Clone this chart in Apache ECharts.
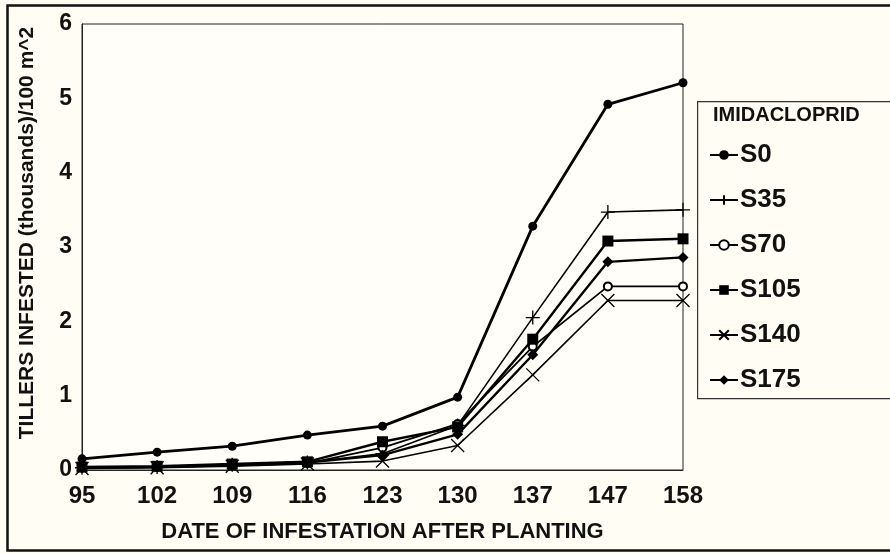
<!DOCTYPE html>
<html>
<head>
<meta charset="utf-8">
<script src="https://cdn.jsdelivr.net/npm/echarts@6/dist/echarts.min.js"></script>
<style>
html,body{margin:0;padding:0;background:#fffdf4;}
#chart{width:890px;height:554px;}
</style>
</head>
<body>
<div id="chart"></div>
<script>
var categories = ['95','102','109','116','123','130','137','147','158'];
var seriesNames = ['S0','S35','S70','S105','S140','S175'];
var S0   = [0.15,0.24,0.32,0.47,0.59,0.98,3.28,4.92,5.21];
var S35  = [0.03,0.04,0.07,0.10,0.22,0.60,2.05,3.47,3.50];
var S70  = [0.03,0.04,0.06,0.09,0.30,0.62,1.66,2.47,2.47];
var S105 = [0.04,0.05,0.08,0.11,0.38,0.58,1.76,3.08,3.11];
var S140 = [0.02,0.03,0.05,0.08,0.12,0.33,1.28,2.28,2.28];
var S175 = [0.03,0.04,0.07,0.10,0.20,0.48,1.55,2.80,2.86];
var yTicks = [0,1,2,3,4,5,6];

var FONT = '"Liberation Sans", Arial, sans-serif';
var plusPath = 'path://M0,5L10,5M5,0L5,10';
var crossPath = 'path://M0,0L10,10M10,0L0,10';

function mk(name, data, symbol, size, lw, extra) {
  var s = {
    name: name, type: 'line', data: data,
    symbol: symbol, symbolSize: size, showAllSymbol: true,
    lineStyle: {color: '#000', width: lw},
    itemStyle: {color: '#000', borderColor: '#000', borderWidth: 0},
    emphasis: {disabled: true},
    animation: false, z: 3
  };
  if (extra) { for (var k in extra) s[k] = extra[k]; }
  return s;
}

var chart = echarts.init(document.getElementById('chart'), null, {renderer: 'canvas'});
chart.setOption({
  backgroundColor: '#fffdf4',
  animation: false,
  grid: {left: 82, top: 24, right: 207, bottom: 84, show: true, borderColor: '#222', borderWidth: 1, backgroundColor: '#fffef8'},
  xAxis: {
    type: 'category', data: categories, boundaryGap: false,
    axisLine: {lineStyle: {color: '#222', width: 1}},
    axisTick: {show: false},
    axisLabel: {color: '#111', fontFamily: FONT, fontWeight: 'bold', fontSize: 24, margin: 14},
    splitLine: {show: false},
    name: 'DATE OF INFESTATION AFTER PLANTING', nameLocation: 'middle', nameGap: 51,
    nameTextStyle: {color: '#111', fontFamily: FONT, fontWeight: 'bold', fontSize: 22}
  },
  yAxis: {
    type: 'value', min: yTicks[0], max: yTicks[yTicks.length-1], interval: 1,
    axisLine: {show: true, lineStyle: {color: '#222', width: 1}},
    axisTick: {show: false},
    splitLine: {show: false},
    axisLabel: {color: '#111', fontFamily: FONT, fontWeight: 'bold', fontSize: 23, margin: 10}
  },
  legend: {
    orient: 'vertical', left: 704, top: 137,
    data: seriesNames,
    itemWidth: 28, itemHeight: 12, itemGap: 19,
    textStyle: {color: '#111', fontFamily: FONT, fontWeight: 'bold', fontSize: 26, padding: [0,0,0,-3]},
    selectedMode: false
  },
  graphic: [
    {type: 'rect', left: 5, top: 3, shape: {width: 900, height: 545}, style: {fill: 'none', stroke: '#111', lineWidth: 2.5}, z: 10, silent: true},
    {type: 'rect', left: 697, top: 101, shape: {width: 200, height: 297}, style: {fill: '#fffdf4', stroke: '#333', lineWidth: 1.2}, z: -1, silent: true},
    {type: 'text', left: 713, top: 105, style: {text: 'IMIDACLOPRID', fill: '#111', font: 'bold 20px "Liberation Sans", Arial, sans-serif'}, z: 10},
    {type: 'text', x: 27, y: 233, rotation: Math.PI / 2,
     style: {text: 'TILLERS INFESTED (thousands)/100 m^2', fill: '#111', align: 'center', verticalAlign: 'middle',
             font: 'bold 21px "Liberation Sans", Arial, sans-serif'}, z: 10}
  ],
  series: [
    mk('S0', S0, 'circle', 9, 2.8),
    mk('S35', S35, plusPath, 14, 1.6, {itemStyle: {color: 'none', borderColor: '#000', borderWidth: 1.3}}),
    mk('S70', S70, 'emptyCircle', 8, 1.8, {itemStyle: {color: '#000', borderColor: '#000', borderWidth: 1}}),
    mk('S105', S105, 'rect', 11, 2.4),
    mk('S140', S140, crossPath, 13, 1.6, {itemStyle: {color: 'none', borderColor: '#000', borderWidth: 1.3}}),
    mk('S175', S175, 'diamond', 11, 2.4)
  ]
});
</script>
</body>
</html>
